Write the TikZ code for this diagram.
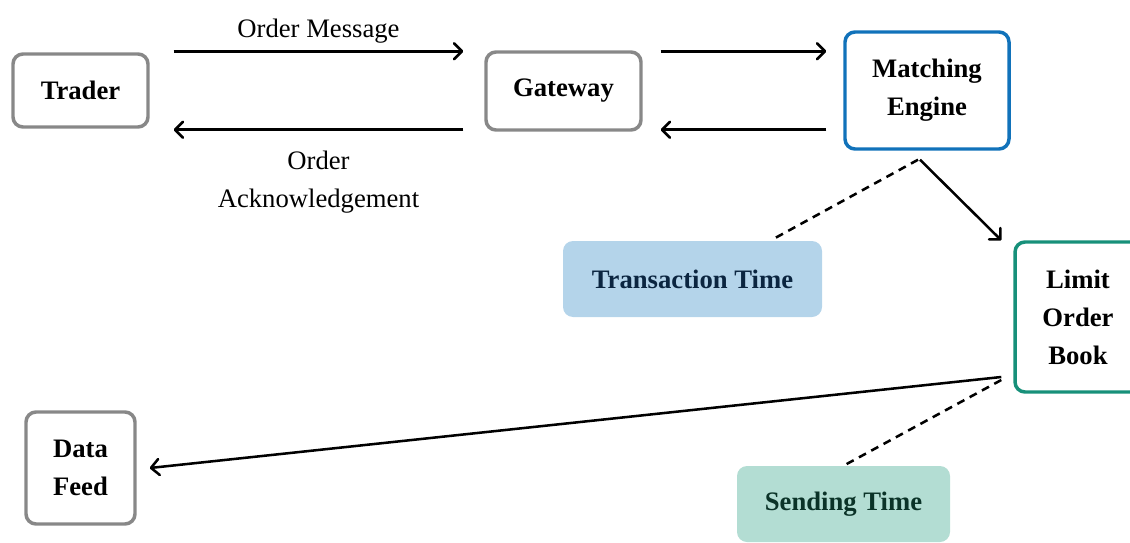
\documentclass[tikz,border=0pt]{standalone}
\usepackage{fontspec}
\setmainfont{Liberation Serif}
\usetikzlibrary{calc,arrows.meta}

\definecolor{boxgray}{HTML}{888888}
\definecolor{meblue}{HTML}{1172BA}
\definecolor{lobgreen}{HTML}{17907A}
\definecolor{ttfill}{HTML}{B4D4EA}
\definecolor{tttext}{HTML}{0B2540}
\definecolor{stfill}{HTML}{B3DDD3}
\definecolor{sttext}{HTML}{0B3328}

\tikzset{
  base/.style={rounded corners=7.5pt, line width=2.6pt, align=center,
    font=\fontsize{20}{28.5}\selectfont\bfseries, inner sep=0pt},
  grayblock/.style={base, draw=boxgray},
  blueblock/.style={base, draw=meblue},
  greenblock/.style={base, draw=lobgreen},
  tagbox/.style={rounded corners=7.5pt, inner sep=0pt,
    font=\fontsize{20}{28.5}\selectfont\bfseries},
  flow/.style={-{Straight Barb[length=6pt,width=12pt,round]}, line width=1.9pt},
  link/.style={line width=1.9pt, dash pattern=on 6pt off 4.5pt},
  lbl/.style={font=\fontsize{20}{28.5}\selectfont, align=center, inner sep=0pt}
}

\begin{document}
\begin{tikzpicture}[x=0.75pt, y=-0.75pt]
\useasboundingbox (0,0) rectangle (1130,542);
\clip (0,0) rectangle (1130,542);

% components
\node[grayblock, minimum width=135*0.75pt, minimum height=73*0.75pt] (trader) at (80.5,90.5) {Trader};
\node[grayblock, minimum width=155*0.75pt, minimum height=78*0.75pt] (gw) at (563.5,91) {Gateway};
\node[blueblock, minimum width=164*0.75pt, minimum height=117*0.75pt] (me) at (927,90.5) {Matching\\Engine};
\node[greenblock, minimum width=126*0.75pt, minimum height=150*0.75pt] (lob) at (1078,317) {Limit\\Order\\Book};
\node[grayblock, minimum width=109*0.75pt, minimum height=112*0.75pt] (df) at (80.5,468) {Data\\Feed};

% timestamp tags
\node[tagbox, fill=ttfill, text=tttext, minimum width=259*0.75pt, minimum height=76*0.75pt] (tt) at (692.5,279) {Transaction Time};
\node[tagbox, fill=stfill, text=sttext, minimum width=213*0.75pt, minimum height=76*0.75pt] (st) at (843.5,504) {Sending Time};

% order path
\draw[flow] ($(trader.east |- gw.north)+(24,1)$) -- ($(gw.west |- gw.north)+(-21,1)$)
  node[lbl, midway, above=5pt] (om) {Order Message};
\draw[flow] ($(gw.west |- gw.south)+(-21,-2)$) -- ($(trader.east |- gw.south)+(24,-2)$)
  node[lbl, midway, below=15pt] (ack) {Order\\Acknowledgement};
\draw[flow] ($(gw.east |- gw.north)+(18,1)$) -- ($(me.west |- gw.north)+(-17,1)$);
\draw[flow] ($(me.west |- gw.south)+(-17,-2)$) -- ($(gw.east |- gw.south)+(18,-2)$);

% book update and market data
\draw[flow] ($(me.south)+(-7,9)$) -- ($(lob.north west)+(-12,0)$);
\draw[flow] ($(lob.west)+(-12,60)$) -- ($(df.east)+(13,0)$);

% timestamp links
\draw[link] ($(me.south)+(-9,9)$) -- ($(tt.north)+(79.5,-1)$);
\draw[link] ($(lob.west)+(-12,63)$) -- (st.north);
\end{tikzpicture}
\end{document}
